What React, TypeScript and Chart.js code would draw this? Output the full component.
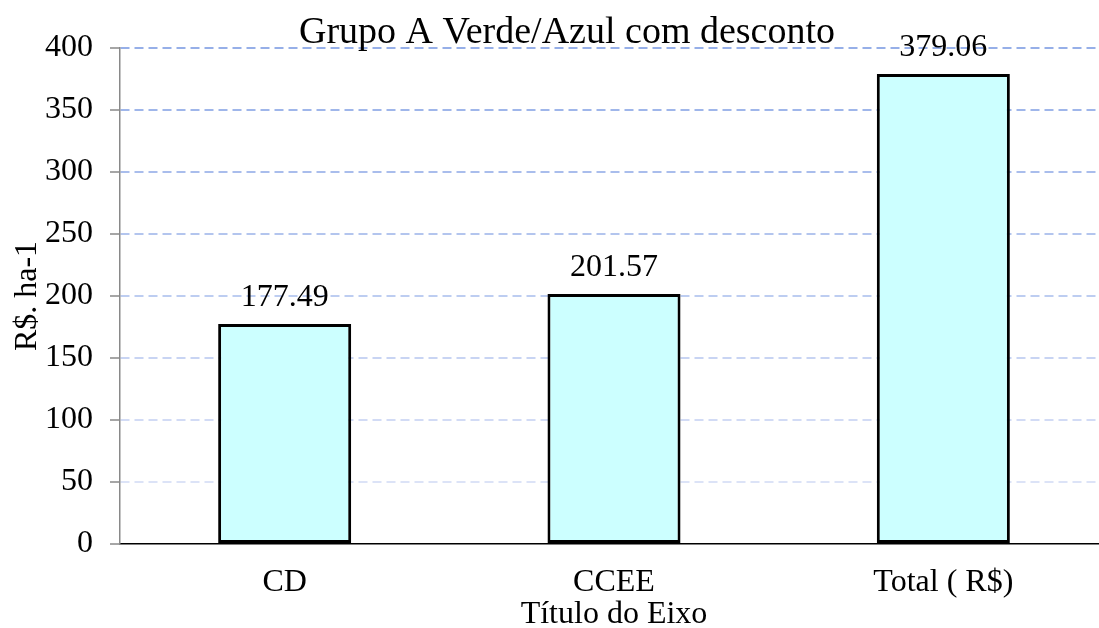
import React, { useEffect, useRef } from "react";
import { Chart, registerables } from "chart.js";

Chart.register(...registerables);

const categories = ["CD", "CCEE", "Total ( R$)"];
const values = [177.49, 201.57, 379.06];
const valueLabels = ["177.49", "201.57", "379.06"];
const chartTitle = "Grupo A Verde/Azul com desconto";
const xTitle = "Título do Eixo";
const yTitle = "R$. ha-1";
const yTickValues = [0, 50, 100, 150, 200, 250, 300, 350, 400];
const gridColors = [
  "transparent",
  "#dce3f7",
  "#d2dbf5",
  "#c8d4f3",
  "#bdcdf1",
  "#b3c5ee",
  "#a9bdec",
  "#9fb6ea",
  "#96afe8",
];

const FONT = "'Liberation Serif', 'Times New Roman', serif";

const titlePlugin = {
  id: "customTitle",
  afterDraw(chart: any) {
    const ctx = chart.ctx;
    const area = chart.chartArea;
    ctx.save();
    ctx.font = `38px ${FONT}`;
    ctx.fillStyle = "#000";
    ctx.textAlign = "center";
    ctx.textBaseline = "alphabetic";
    ctx.fillText(chartTitle, area.left + 447, area.top - 5);
    ctx.restore();
  },
};

const labelPlugin = {
  id: "valueLabels",
  afterDatasetsDraw(chart: any) {
    const ctx = chart.ctx;
    const meta = chart.getDatasetMeta(0);
    ctx.save();
    ctx.font = `32px ${FONT}`;
    ctx.fillStyle = "#000";
    ctx.textAlign = "center";
    ctx.textBaseline = "alphabetic";
    meta.data.forEach((bar: any, i: number) => {
      ctx.fillText(valueLabels[i], bar.x, bar.y - 18);
    });
    ctx.restore();
  },
};

export default function App() {
  const ref = useRef<HTMLCanvasElement>(null);
  useEffect(() => {
    if (!ref.current) return;
    const chart = new Chart(ref.current, {
      type: "bar",
      data: {
        labels: categories,
        datasets: [
          {
            data: values,
            backgroundColor: "#ccffff",
            borderColor: "#000000",
            borderWidth: 3,
            borderSkipped: false,
            barPercentage: 0.404,
            categoryPercentage: 1,
          },
        ],
      },
      options: {
        responsive: false,
        animation: false,
        devicePixelRatio: 1,
        layout: { padding: { top: 48, left: 0, right: 0, bottom: 0 } },
        plugins: {
          legend: { display: false },
          title: { display: false },
          tooltip: { enabled: false },
        },
        scales: {
          x: {
            afterFit: (scale: any) => {
              scale.height = 96;
            },
            grid: { display: true, drawOnChartArea: false, drawTicks: false },
            border: { display: true, color: "#000000", width: 1.5 },
            ticks: {
              color: "#000",
              padding: 19,
              font: { family: FONT, size: 32 },
              maxRotation: 0,
            },
            title: {
              display: true,
              text: xTitle,
              color: "#000",
              font: { family: FONT, size: 32 },
              padding: { top: 0, bottom: 6 },
            },
          },
          y: {
            min: 0,
            max: 400,
            afterFit: (scale: any) => {
              scale.width = 120;
            },
            afterBuildTicks: (scale: any) => {
              scale.ticks = yTickValues.map((v) => ({ value: v }));
            },
            grid: {
              color: (c: any) => gridColors[c.index] ?? "#c8d4f1",
              lineWidth: 2,
              tickLength: 10,
              tickColor: "#898989",
              tickWidth: 1.5,
              tickBorderDash: [],
            },
            border: { display: true, color: "#898989", width: 1.5, dash: [9, 5] },
            ticks: {
              color: "#000",
              padding: 17,
              font: { family: FONT, size: 32 },
            },
            title: {
              display: true,
              text: yTitle,
              color: "#000",
              font: { family: FONT, size: 32 },
              padding: { top: 8, bottom: 0 },
            },
          },
        },
      },
      plugins: [titlePlugin, labelPlugin],
    });
    return () => chart.destroy();
  }, []);

  return (
    <div
      style={{
        position: "fixed",
        left: 0,
        top: 0,
        width: 1108,
        height: 640,
        background: "#fff",
      }}
    >
      <canvas ref={ref} width={1108} height={640} />
    </div>
  );
}
